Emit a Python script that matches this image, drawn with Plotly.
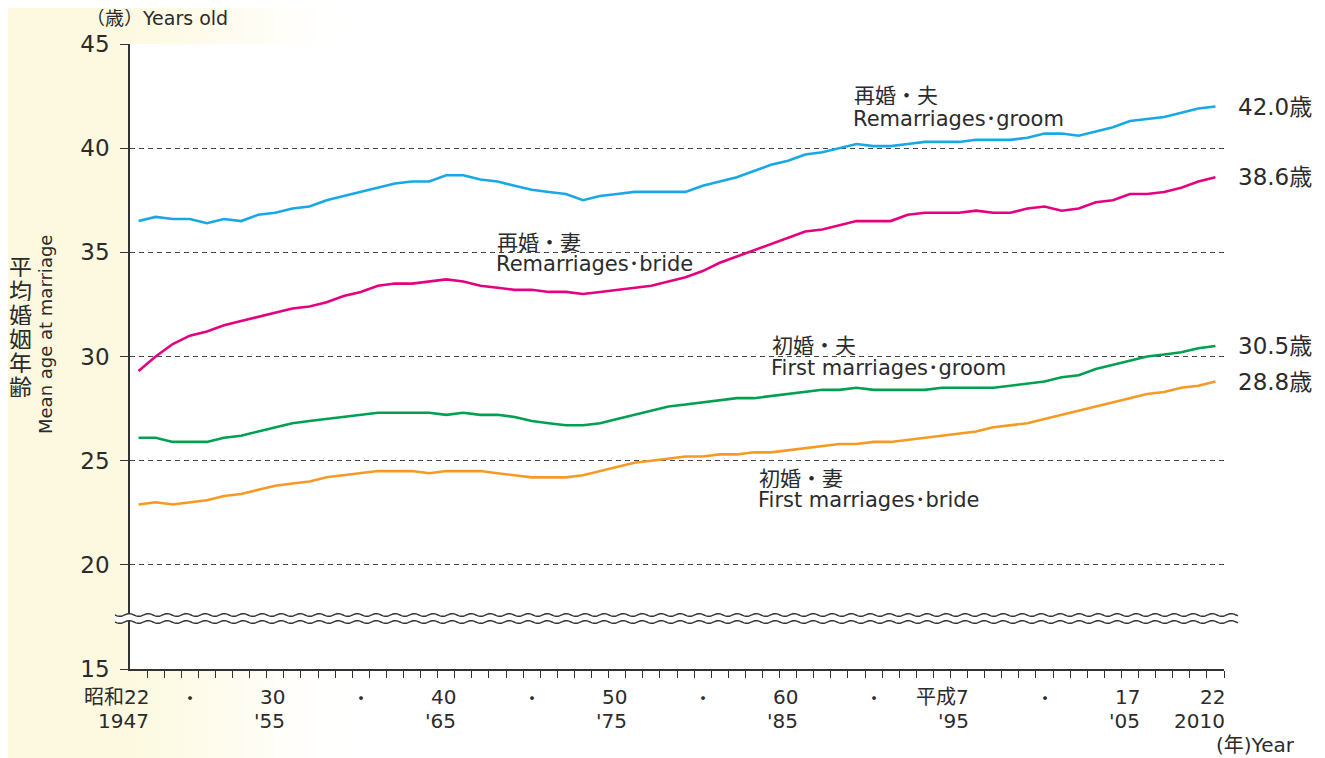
import math
import plotly.graph_objects as go

# ---------------- data ----------------
years = list(range(1947, 2011))

remarriage_groom = [
    36.5, 36.7, 36.6, 36.6, 36.4, 36.6, 36.5, 36.8, 36.9, 37.1,
    37.2, 37.5, 37.7, 37.9, 38.1, 38.3, 38.4, 38.4, 38.7, 38.7,
    38.5, 38.4, 38.2, 38.0, 37.9, 37.8, 37.5, 37.7, 37.8, 37.9,
    37.9, 37.9, 37.9, 38.2, 38.4, 38.6, 38.9, 39.2, 39.4, 39.7,
    39.8, 40.0, 40.2, 40.1, 40.1, 40.2, 40.3, 40.3, 40.3, 40.4,
    40.4, 40.4, 40.5, 40.7, 40.7, 40.6, 40.8, 41.0, 41.3, 41.4,
    41.5, 41.7, 41.9, 42.0,
]
remarriage_bride = [
    29.3, 30.0, 30.6, 31.0, 31.2, 31.5, 31.7, 31.9, 32.1, 32.3,
    32.4, 32.6, 32.9, 33.1, 33.4, 33.5, 33.5, 33.6, 33.7, 33.6,
    33.4, 33.3, 33.2, 33.2, 33.1, 33.1, 33.0, 33.1, 33.2, 33.3,
    33.4, 33.6, 33.8, 34.1, 34.5, 34.8, 35.1, 35.4, 35.7, 36.0,
    36.1, 36.3, 36.5, 36.5, 36.5, 36.8, 36.9, 36.9, 36.9, 37.0,
    36.9, 36.9, 37.1, 37.2, 37.0, 37.1, 37.4, 37.5, 37.8, 37.8,
    37.9, 38.1, 38.4, 38.6,
]
first_groom = [
    26.1, 26.1, 25.9, 25.9, 25.9, 26.1, 26.2, 26.4, 26.6, 26.8,
    26.9, 27.0, 27.1, 27.2, 27.3, 27.3, 27.3, 27.3, 27.2, 27.3,
    27.2, 27.2, 27.1, 26.9, 26.8, 26.7, 26.7, 26.8, 27.0, 27.2,
    27.4, 27.6, 27.7, 27.8, 27.9, 28.0, 28.0, 28.1, 28.2, 28.3,
    28.4, 28.4, 28.5, 28.4, 28.4, 28.4, 28.4, 28.5, 28.5, 28.5,
    28.5, 28.6, 28.7, 28.8, 29.0, 29.1, 29.4, 29.6, 29.8, 30.0,
    30.1, 30.2, 30.4, 30.5,
]
first_bride = [
    22.9, 23.0, 22.9, 23.0, 23.1, 23.3, 23.4, 23.6, 23.8, 23.9,
    24.0, 24.2, 24.3, 24.4, 24.5, 24.5, 24.5, 24.4, 24.5, 24.5,
    24.5, 24.4, 24.3, 24.2, 24.2, 24.2, 24.3, 24.5, 24.7, 24.9,
    25.0, 25.1, 25.2, 25.2, 25.3, 25.3, 25.4, 25.4, 25.5, 25.6,
    25.7, 25.8, 25.8, 25.9, 25.9, 26.0, 26.1, 26.2, 26.3, 26.4,
    26.6, 26.7, 26.8, 27.0, 27.2, 27.4, 27.6, 27.8, 28.0, 28.2,
    28.3, 28.5, 28.6, 28.8,
]

series_names_jp = ["再婚・夫", "再婚・妻", "初婚・夫", "初婚・妻"]
series_names_en = ["Remarriages･groom", "Remarriages･bride",
                   "First marriages･groom", "First marriages･bride"]

tick_years = [1947, 1950, 1955, 1960, 1965, 1970, 1975, 1980, 1985, 1990,
              1995, 2000, 2005, 2010]
tick_top = ["昭和22", "・", "30", "・", "40", "・", "50", "・", "60", "・",
            "平成7", "・", "17", "22"]
tick_bottom = ["1947", "", "'55", "", "'65", "", "'75", "", "'85", "",
               "'95", "", "'05", "2010"]

y_ticks = [15, 20, 25, 30, 35, 40, 45]

# ---------------- styling / layout ----------------
SW, SH = 1325, 758          # screen size
OFF = 8                     # page body margin
L, R, T, B = 130, 1224, 44, 669   # plot box in screen pixels
FONT = "DejaVu Sans, Noto Sans CJK JP, sans-serif"
CJK = "Noto Sans CJK JP, sans-serif"
TXT = "#2b2b2b"

colors = ["#19a8e6", "#e5007f", "#00a051", "#f59a23"]
all_series = [remarriage_groom, remarriage_bride, first_groom, first_bride]


def pxx(px):
    return (px - L) / (R - L)


def pxy(py):
    return (B - py) / (B - T)


fig = go.Figure()
for vals, col, nm in zip(all_series, colors, series_names_en):
    fig.add_trace(go.Scatter(x=years, y=vals, mode="lines", name=nm,
                             line=dict(color=col, width=2.6),
                             hoverinfo="x+y"))

shapes = []
# background gradient (cream -> white)
cream = (253, 249, 224)
step = 5
for px0 in range(0, 400, step):
    c = px0 + step / 2
    t = min(max((c - 100) / 260, 0), 1)
    t = t * t * (3 - 2 * t)
    col = tuple(round(cream[i] * (1 - t) + 255 * t) for i in range(3))
    shapes.append(dict(type="rect", xref="paper", yref="paper",
                       x0=pxx(px0), x1=pxx(px0 + step + 0.5),
                       y0=pxy(SH + 10), y1=pxy(-10), line=dict(width=0),
                       fillcolor="rgb(%d,%d,%d)" % col, layer="below"))
# white plot area
shapes.append(dict(type="rect", xref="paper", yref="paper", x0=0, x1=1,
                   y0=0, y1=1, line=dict(width=0), fillcolor="white",
                   layer="below"))


# axis break (two wavy lines with white band)
def wave(yc, x_from, x_to, reverse=False):
    pts = []
    amp, per = 1.3, 19.0
    xs = [x_from + i for i in range(int(x_to - x_from) + 1)]
    if reverse:
        xs = xs[::-1]
    for x in xs:
        y = yc + amp * math.sin(2 * math.pi * (x - x_from) / per)
        pts.append((pxx(x), pxy(y)))
    return pts


wx0, wx1 = 115, 1238
top = wave(615, wx0, wx1)
bot = wave(622, wx0, wx1, reverse=True)
band = "M " + " L ".join("%.5f,%.5f" % p for p in top + bot) + " Z"
shapes.append(dict(type="path", xref="paper", yref="paper", path=band,
                   fillcolor="white", line=dict(width=0), layer="above"))
for pts in (top, wave(622, wx0, wx1)):
    shapes.append(dict(type="path", xref="paper", yref="paper",
                       path="M " + " L ".join("%.5f,%.5f" % p for p in pts),
                       line=dict(color="#333333", width=1.4), layer="above"))

annotations = []
# x tick labels
for yr, t1, t2 in zip(tick_years, tick_top, tick_bottom):
    if t1 == "・":
        annotations.append(dict(x=yr, y=pxy(697), xref="x", yref="paper",
                                text=t1, showarrow=False, xanchor="center",
                                yanchor="middle", height=22,
                                font=dict(family=CJK, size=18, color=TXT)))
        continue
    annotations.append(dict(x=yr, y=pxy(697), xref="x", yref="paper", text=t1,
                            showarrow=False, xanchor="right", yanchor="middle",
                            xshift=12, height=22,
                            font=dict(family=FONT, size=20, color=TXT)))
    annotations.append(dict(x=yr, y=pxy(721), xref="x", yref="paper", text=t2,
                            showarrow=False, xanchor="right", yanchor="middle",
                            xshift=12, height=22,
                            font=dict(family=FONT, size=20, color=TXT)))

# end value labels
for vals in all_series:
    annotations.append(dict(x=years[-1], y=vals[-1], xref="x", yref="y",
                            text="%.1f歳" % vals[-1], showarrow=False,
                            xanchor="left", yanchor="middle", xshift=21,
                            font=dict(family=FONT, size=23, color=TXT)))

# series labels (pixel anchors: left edge, centre of jp line, centre of en line)
label_pos = [(852, 94, 119), (495, 241, 264), (770, 344, 368), (757, 477, 500)]
for (lx, yj, ye), jp, en in zip(label_pos, series_names_jp, series_names_en):
    annotations.append(dict(x=pxx(lx), y=pxy(yj), xref="paper", yref="paper",
                            text=jp, showarrow=False, xanchor="left",
                            yanchor="middle", height=22,
                            font=dict(family=CJK, size=21, color=TXT)))
    annotations.append(dict(x=pxx(lx - 1), y=pxy(ye), xref="paper", yref="paper",
                            text=en, showarrow=False, xanchor="left",
                            yanchor="middle", height=22,
                            font=dict(family=FONT, size=21, color=TXT)))

# axis titles
annotations.append(dict(x=pxx(84), y=pxy(18), xref="paper", yref="paper",
                        text="（歳）Years old", showarrow=False, xanchor="left",
                        yanchor="middle", height=18,
                        font=dict(family=FONT, size=19, color=TXT)))
annotations.append(dict(x=pxx(1297), y=pxy(745), xref="paper", yref="paper",
                        text="(年)Year", showarrow=False, xanchor="right",
                        yanchor="middle", height=22,
                        font=dict(family=FONT, size=20, color=TXT)))
annotations.append(dict(x=pxx(45), y=pxy(335), xref="paper", yref="paper",
                        text="Mean age at marriage", showarrow=False,
                        textangle=-90, xanchor="center", yanchor="middle",
                        font=dict(family=FONT, size=18, color=TXT)))
for i, ch in enumerate("平均婚姻年齢"):
    annotations.append(dict(x=pxx(20), y=pxy(265 + 24 * i), xref="paper",
                            yref="paper", text=ch, showarrow=False,
                            xanchor="center", yanchor="middle", height=23,
                            font=dict(family=CJK, size=23, color=TXT)))

minor_ticks = [y + 0.5 for y in range(1947, 2011)]

fig.update_layout(
    width=SW - OFF, height=SH - OFF,
    margin=dict(l=L - OFF, r=SW - R, t=T - OFF, b=SH - B, pad=0),
    paper_bgcolor="white", plot_bgcolor="rgba(0,0,0,0)",
    showlegend=False,
    shapes=shapes, annotations=annotations,
    font=dict(family=FONT, color=TXT),
    xaxis=dict(range=[1946.5, 2010.5], tickmode="array", tickvals=minor_ticks,
               showticklabels=False, ticks="outside", ticklen=7,
               tickcolor="#333333", tickwidth=1.3,
               showline=True, linecolor="#333333", linewidth=1.5,
               showgrid=False, zeroline=False, fixedrange=True),
    yaxis=dict(range=[15, 45], tickmode="array", tickvals=y_ticks,
               ticks="outside", ticklen=8, tickcolor="#333333", tickwidth=1.3,
               ticklabelstandoff=6,
               tickfont=dict(family=FONT, size=23, color=TXT),
               showline=True, linecolor="#333333", linewidth=1.5,
               showgrid=True, gridcolor="#444444", gridwidth=1,
               griddash="5px,4px", zeroline=False, fixedrange=True),
)

fig.write_html("out.html", config={"displayModeBar": False})
